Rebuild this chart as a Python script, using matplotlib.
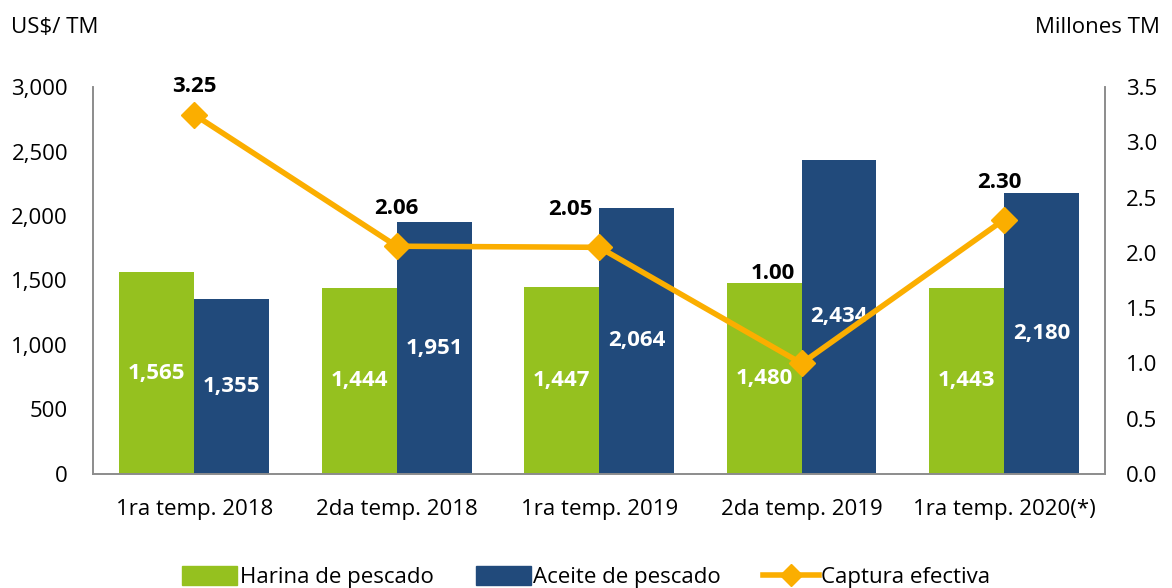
import numpy as np
import matplotlib.pyplot as plt
from matplotlib.lines import Line2D
from matplotlib.patches import Patch

categories = ["1ra temp. 2018", "2da temp. 2018", "1ra temp. 2019", "2da temp. 2019", "1ra temp. 2020(*)"]
harina = [1565, 1444, 1447, 1480, 1443]
aceite = [1355, 1951, 2064, 2434, 2180]
captura = [3.25, 2.06, 2.05, 1.00, 2.30]

green = "#95C11F"
blue = "#214A7B"
orange = "#FBAE00"
font = "Open Sans"
plt.rcParams["font.family"] = [font, "DejaVu Sans"]
fs = 16

fig = plt.figure(figsize=(11.72, 5.88), dpi=100)
ax = fig.add_axes([0.0794, 0.194, 0.8636, 0.658])
ax2 = ax.twinx()

x = np.arange(len(categories))
w = 0.37
b1 = ax.bar(x - w / 2, harina, w, color=green, zorder=2)
b2 = ax.bar(x + w / 2, aceite, w, color=blue, zorder=2)

for bars, vals in ((b1, harina), (b2, aceite)):
    for r, v in zip(bars, vals):
        ax.text(r.get_x() + r.get_width() / 2, v / 2, f"{v:,}", ha="center", va="center",
                color="white", fontsize=fs, fontweight="bold")

ax.set_xlim(-0.5, len(categories) - 0.5)
ax.set_ylim(0, 3000)
ax.set_yticks(range(0, 3001, 500))
ax.set_yticklabels([f"{v:,}" for v in range(0, 3001, 500)])
ax.set_xticks(x)
ax.set_xticklabels(categories)
ax.tick_params(axis="both", length=0, labelsize=fs)
ax.tick_params(axis="x", pad=18)
ax.tick_params(axis="y", pad=18)

ax2.plot(x, captura, color=orange, lw=4, marker="D", ms=13, zorder=5)
ax2.set_ylim(0, 3.5)
ax2.set_yticks(np.arange(0, 3.51, 0.5))
ax2.set_yticklabels([f"{v:.1f}" for v in np.arange(0, 3.51, 0.5)])
ax2.tick_params(axis="y", length=0, labelsize=fs, pad=15)

# label offsets in points (dx, dy)
offsets = [(0, 20), (0, 27), (-21, 27), (-21, 65), (-3, 27)]
for xi, v, (dx, dy) in zip(x, captura, offsets):
    ax2.annotate(f"{v:.2f}", (xi, v), xytext=(dx, dy), textcoords="offset points",
                 ha="center", va="center", fontsize=fs, fontweight="bold", color="black")

for a in (ax, ax2):
    a.spines["top"].set_visible(False)
    for s in ("left", "right", "bottom"):
        a.spines[s].set_color("#8C8C8C")
        a.spines[s].set_linewidth(1.2)

fig.text(0.009, 0.953, "US$/ TM", fontsize=fs, ha="left", va="center")
fig.text(0.99, 0.953, "Millones TM", fontsize=fs, ha="right", va="center")

handles = [Patch(color=green), Patch(color=blue),
           Line2D([], [], color=orange, lw=4, marker="D", ms=11)]
fig.legend(handles, ["Harina de pescado", "Aceite de pescado", "Captura efectiva"],
           loc="center", bbox_to_anchor=(0.5, 0.018), ncol=3, frameon=False, fontsize=fs,
           handlelength=2.5, handleheight=0.9, handletextpad=0.1, columnspacing=1.9)

fig.savefig("out.png", dpi=100)
